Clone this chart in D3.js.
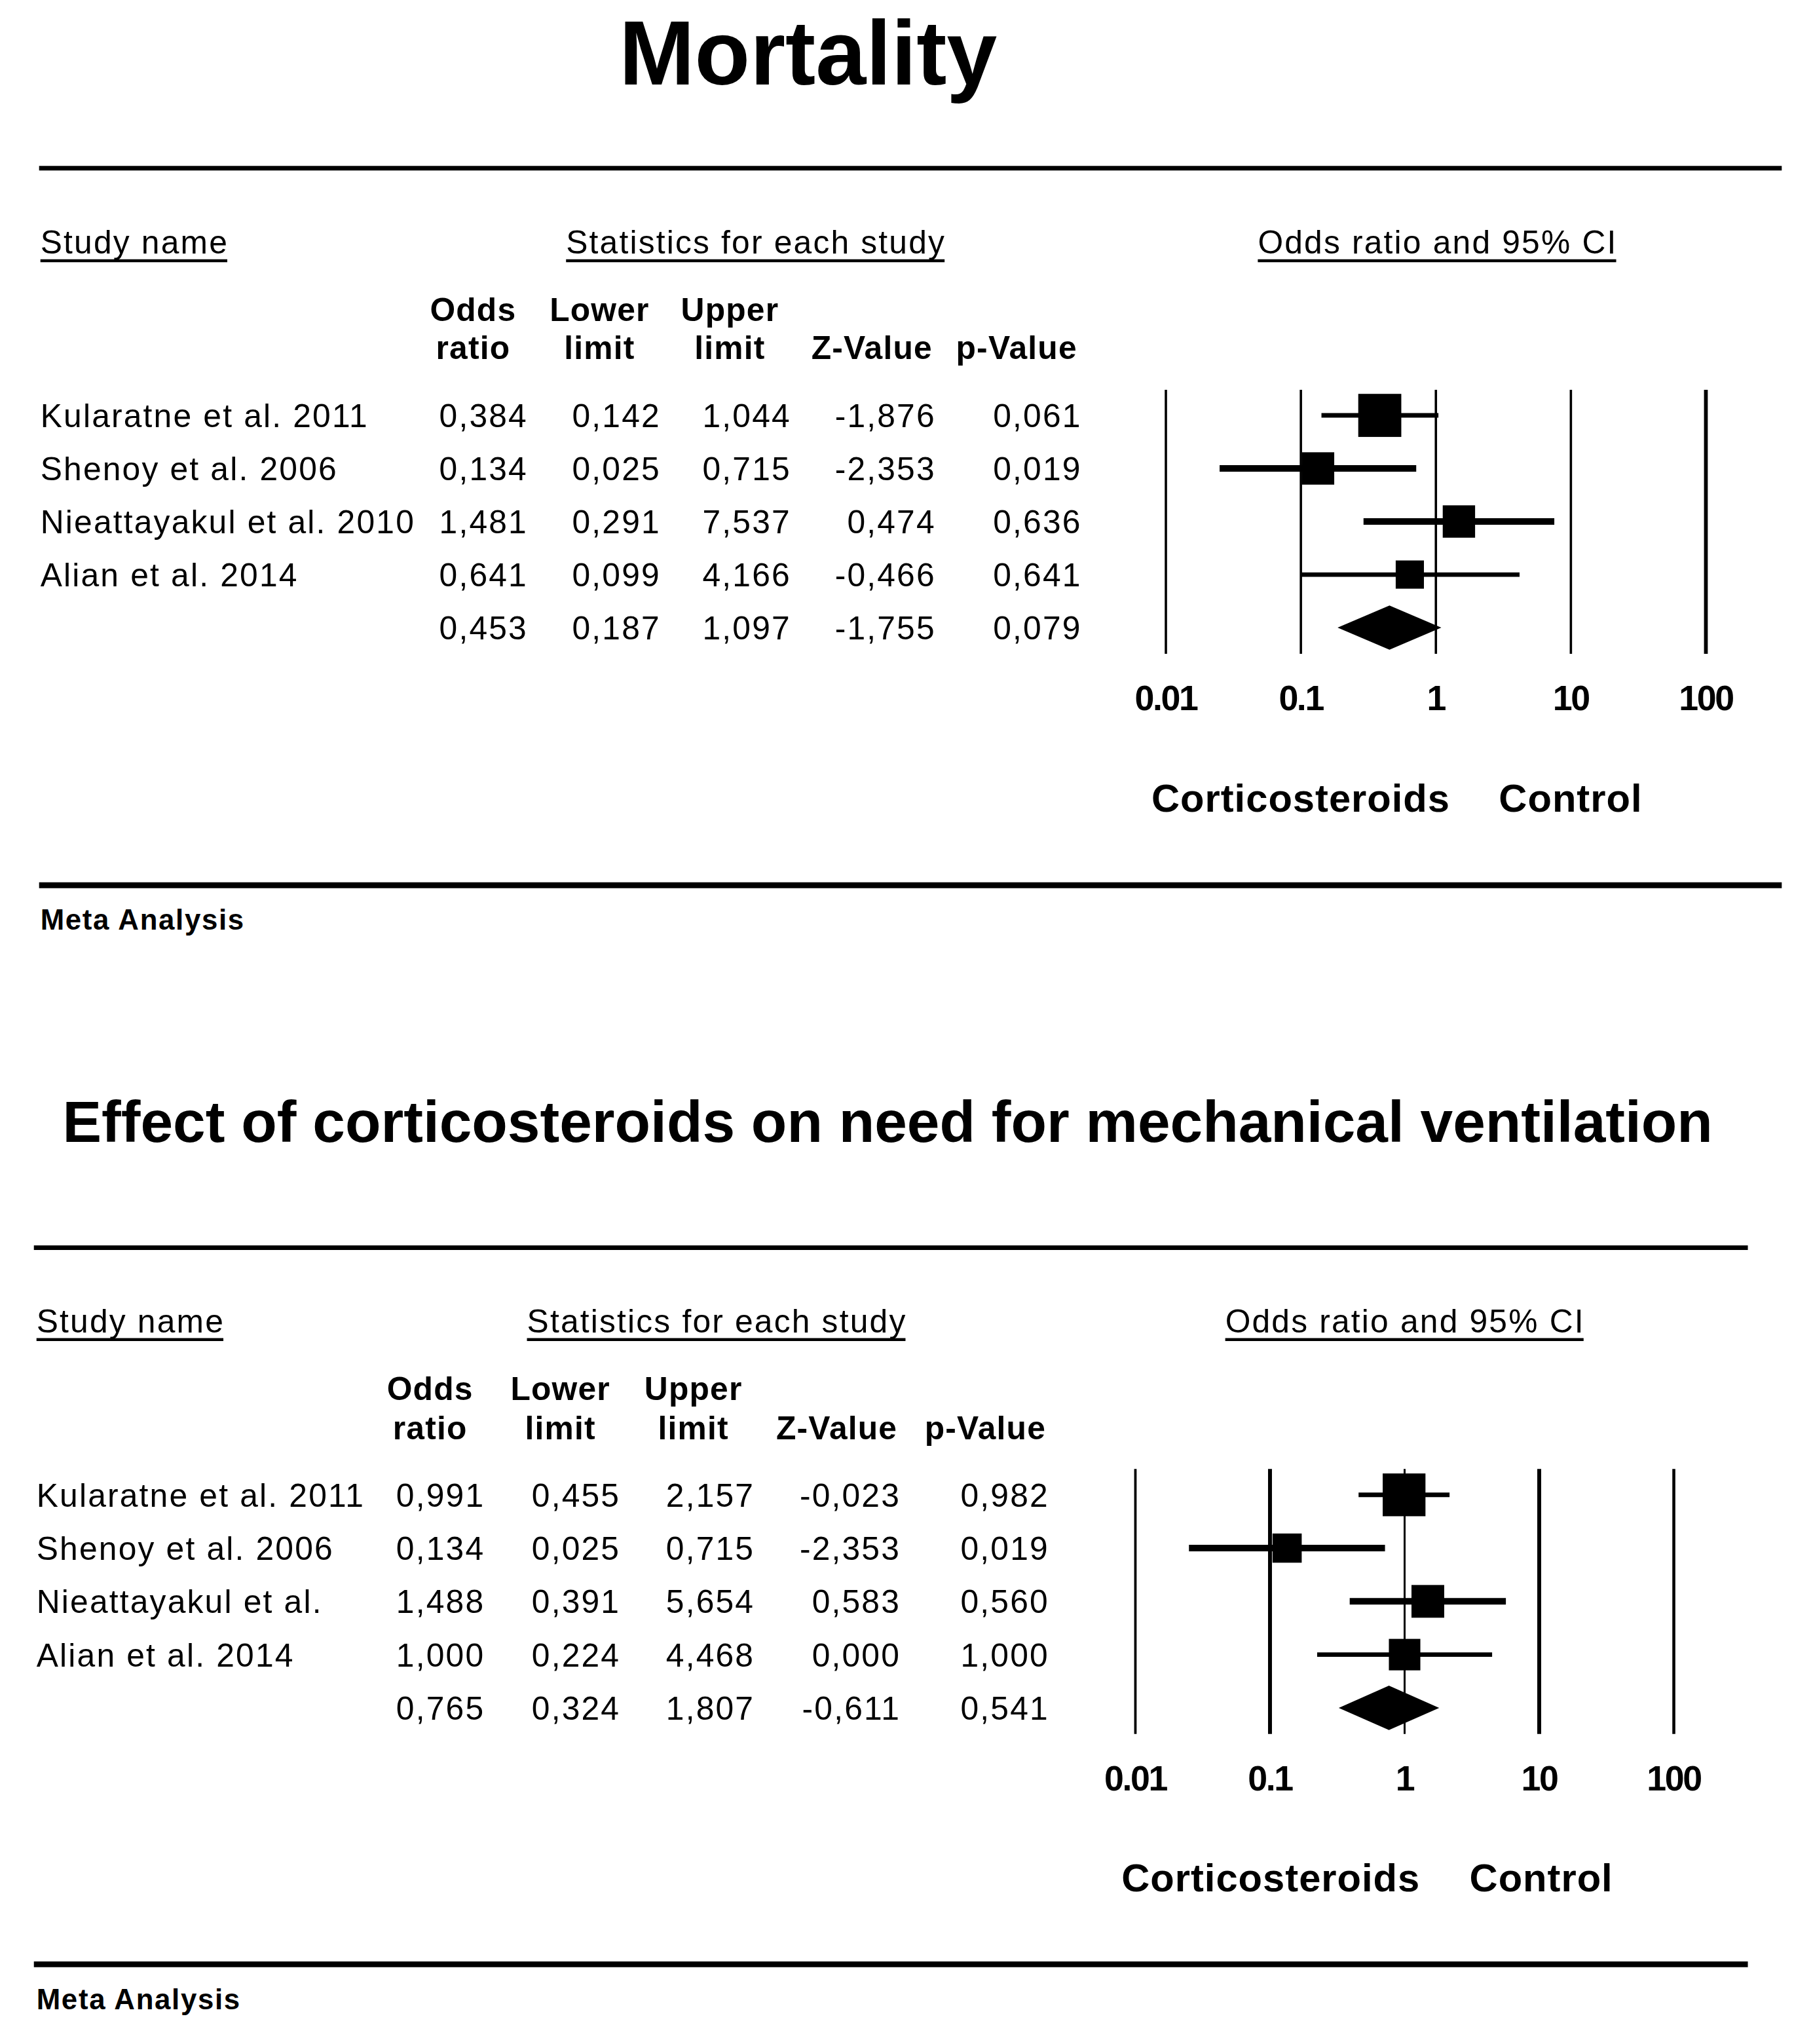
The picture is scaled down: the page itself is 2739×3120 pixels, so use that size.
<!DOCTYPE html>
<html>
<head>
<meta charset="utf-8">
<script src="https://cdn.jsdelivr.net/npm/d3@7"></script>
<style>
  html, body { margin: 0; padding: 0; background: #fff; }
  svg { display: block; }
  text { font-family: "Liberation Sans", Arial, sans-serif; fill: #000; }
</style>
</head>
<body>
<svg id="chart"></svg>
<script>
// ---- data: mortality ----
const mortStudies = ["Kularatne et al. 2011", "Shenoy et al. 2006", "Nieattayakul et al. 2010", "Alian et al. 2014"];
const mortOR = [0.384, 0.134, 1.481, 0.641];
const mortLower = [0.142, 0.025, 0.291, 0.099];
const mortUpper = [1.044, 0.715, 7.537, 4.166];
const mortZ = [-1.876, -2.353, 0.474, -0.466];
const mortP = [0.061, 0.019, 0.636, 0.641];
const mortWeight = [39.1, 22.1, 22.1, 16.8];
const mortSummary = [0.453, 0.187, 1.097, -1.755, 0.079];

// ---- data: mechanical ventilation ----
const ventStudies = ["Kularatne et al. 2011", "Shenoy et al. 2006", "Nieattayakul et al.", "Alian et al. 2014"];
const ventOR = [0.991, 0.134, 1.488, 1.000];
const ventLower = [0.455, 0.025, 0.391, 0.224];
const ventUpper = [2.157, 0.715, 5.654, 4.468];
const ventZ = [-0.023, -2.353, 0.583, 0.000];
const ventP = [0.982, 0.019, 0.560, 1.000];
const ventWeight = [38.6, 18.0, 22.6, 20.9];
const ventSummary = [0.765, 0.324, 1.807, -0.611, 0.541];

const tickValues = [0.01, 0.1, 1, 10, 100];
const tickLabels = ["0.01", "0.1", "1", "10", "100"];
const statHeaders = [["Odds", "ratio"], ["Lower", "limit"], ["Upper", "limit"], ["", "Z-Value"], ["", "p-Value"]];
const groupLabels = ["Corticosteroids", "Control"];
const sectionLabels = ["Study name", "Statistics for each study", "Odds ratio and 95% CI"];
const footerLabel = "Meta Analysis";

// line weights of the CI bars
const ciWidths = [3.5, 5, 5, 3.4];

const W = 1376.4;
const H = 1567.8;

const svg = d3.select("#chart")
  .attr("width", 2739)
  .attr("height", 3120)
  .attr("viewBox", `0 0 ${W} ${H}`);

const fmt = d3.formatLocale({
  decimal: ",",
  thousands: ".",
  grouping: [3],
  currency: ["", ""],
  minus: "-",
}).format(".3f");

const boxSize = d3.scaleSqrt().domain([0, 40]).range([0, 33.4]);

const panels = [
  {
    title: "Mortality", titleX: 620, titleY: 65, titleSize: 70, titleLen: 290,
    ruleX: [30, 1367], ruleTop: 129, ruleBot: 679,
    sectionY: 194.5, sectionX: [31, 580, 1103],
    hdrY: [246.2, 275.4], hdrX: [363, 460, 560, 669, 780],
    colRight: [404, 506, 606, 717, 829],
    rowY: [318.6, 481.4],
    forestX: [894.5, 1308.8], forestY: [299, 501.5],
    gridWidths: [1.8, 1.8, 1.8, 1.8, 2.9],
    tickY: 544.8, groupX: [998, 1205], groupY: 622.4, metaY: 713.3, metaX: 31,
    studies: mortStudies, or: mortOR, lo: mortLower, hi: mortUpper, z: mortZ, p: mortP,
    weight: mortWeight, summary: mortSummary,
  },
  {
    title: "Effect of corticosteroids on need for mechanical ventilation",
    titleX: 681, titleY: 876, titleSize: 45, titleLen: 1266,
    ruleX: [26, 1341], ruleTop: 957, ruleBot: 1506.7,
    sectionY: 1022, sectionX: [28, 550, 1078],
    hdrY: [1074, 1104], hdrX: [330, 430, 532, 642, 756],
    colRight: [371, 475, 578, 690, 804],
    rowY: [1146.6, 1310],
    forestX: [871.1, 1284.2], forestY: [1126.7, 1330],
    gridWidths: [1.9, 3, 1.5, 3, 2.3],
    tickY: 1373.3, groupX: [975, 1182.5], groupY: 1451, metaY: 1541, metaX: 28,
    studies: ventStudies, or: ventOR, lo: ventLower, hi: ventUpper, z: ventZ, p: ventP,
    weight: ventWeight, summary: ventSummary,
  },
];

panels.forEach(drawPanel);

function drawPanel(cfg) {
  const g = svg.append("g");

  // title
  g.append("text")
    .attr("x", cfg.titleX)
    .attr("y", cfg.titleY)
    .attr("text-anchor", "middle")
    .attr("font-size", cfg.titleSize)
    .attr("font-weight", "bold")
    .attr("textLength", cfg.titleLen)
    .attr("lengthAdjust", "spacingAndGlyphs")
    .text(cfg.title);

  // heavy rules
  [cfg.ruleTop, cfg.ruleBot].forEach((y, i) => {
    g.append("line")
      .attr("x1", cfg.ruleX[0]).attr("x2", cfg.ruleX[1])
      .attr("y1", y).attr("y2", y)
      .attr("stroke", "#000")
      .attr("stroke-width", i === 0 ? 3.6 : 4.4);
  });

  // underlined section headers
  sectionLabels.forEach((label, i) => {
    const t = g.append("text")
      .attr("x", cfg.sectionX[i])
      .attr("y", cfg.sectionY)
      .attr("text-anchor", i === 0 ? "start" : "middle")
      .attr("font-size", 25)
      .attr("letter-spacing", 1.1)
      .text(label);
    const bb = t.node().getBBox();
    g.append("line")
      .attr("x1", bb.x).attr("x2", bb.x + bb.width - 1)
      .attr("y1", cfg.sectionY + 5.5).attr("y2", cfg.sectionY + 5.5)
      .attr("stroke", "#000")
      .attr("stroke-width", 2.2);
  });

  // column headers
  statHeaders.forEach((lines, i) => {
    lines.forEach((line, j) => {
      g.append("text")
        .attr("x", cfg.hdrX[i])
        .attr("y", cfg.hdrY[j])
        .attr("text-anchor", "middle")
        .attr("font-size", 25)
        .attr("font-weight", "bold")
        .attr("letter-spacing", 0.6)
        .text(line);
    });
  });

  const nRows = cfg.studies.length;
  const y = d3.scaleLinear().domain([0, nRows]).range(cfg.rowY);
  const x = d3.scaleLog().domain([0.01, 100]).range(cfg.forestX);

  const rows = cfg.studies.map((name, i) => ({
    name, i,
    vals: [cfg.or[i], cfg.lo[i], cfg.hi[i], cfg.z[i], cfg.p[i]],
  }));
  rows.push({ name: "", i: nRows, vals: cfg.summary });

  const rowG = g.selectAll("g.row")
    .data(rows)
    .join("g")
    .attr("class", "row");

  rowG.append("text")
    .attr("x", cfg.sectionX[0])
    .attr("y", (d) => y(d.i) + 9)
    .attr("font-size", 25)
    .attr("letter-spacing", 1.1)
    .text((d) => d.name);

  rowG.selectAll("text.num")
    .data((d) => d.vals.map((v, k) => ({ v, k, i: d.i })))
    .join("text")
    .attr("class", "num")
    .attr("x", (d) => cfg.colRight[d.k] + 1)
    .attr("y", (d) => y(d.i) + 9)
    .attr("text-anchor", "end")
    .attr("font-size", 25)
    .attr("letter-spacing", 1.1)
    .text((d) => fmt(d.v));

  // forest grid
  g.selectAll("line.grid")
    .data(tickValues)
    .join("line")
    .attr("class", "grid")
    .attr("x1", (d) => x(d)).attr("x2", (d) => x(d))
    .attr("y1", cfg.forestY[0]).attr("y2", cfg.forestY[1])
    .attr("stroke", "#000")
    .attr("stroke-width", (d, i) => cfg.gridWidths[i]);

  g.selectAll("text.tick")
    .data(tickValues)
    .join("text")
    .attr("class", "tick")
    .attr("x", (d) => x(d))
    .attr("y", cfg.tickY)
    .attr("text-anchor", "middle")
    .attr("font-size", 27)
    .attr("font-weight", "bold")
    .attr("letter-spacing", -1.2)
    .text((d, i) => tickLabels[i]);

  // CI bars and boxes
  const studyRows = rows.slice(0, nRows);

  g.selectAll("line.ci")
    .data(studyRows)
    .join("line")
    .attr("class", "ci")
    .attr("x1", (d) => x(d.vals[1]))
    .attr("x2", (d) => x(d.vals[2]))
    .attr("y1", (d) => y(d.i))
    .attr("y2", (d) => y(d.i))
    .attr("stroke", "#000")
    .attr("stroke-width", (d) => ciWidths[d.i]);

  g.selectAll("rect.box")
    .data(studyRows)
    .join("rect")
    .attr("class", "box")
    .attr("x", (d) => x(d.vals[0]) - boxSize(cfg.weight[d.i]) / 2)
    .attr("y", (d) => y(d.i) - boxSize(cfg.weight[d.i]) / 2)
    .attr("width", (d) => boxSize(cfg.weight[d.i]))
    .attr("height", (d) => boxSize(cfg.weight[d.i]))
    .attr("fill", "#000");

  // summary diamond
  const s = cfg.summary;
  const cy = y(nRows);
  const hh = 17;
  g.append("path")
    .attr("d", `M${x(s[1])},${cy} L${x(s[0])},${cy - hh} L${x(s[2])},${cy} L${x(s[0])},${cy + hh} Z`)
    .attr("fill", "#000");

  // favours labels
  groupLabels.forEach((label, i) => {
    g.append("text")
      .attr("x", cfg.groupX[i])
      .attr("y", cfg.groupY)
      .attr("text-anchor", "middle")
      .attr("font-size", 30)
      .attr("font-weight", "bold")
      .attr("letter-spacing", 0.5)
      .text(label);
  });

  g.append("text")
    .attr("x", cfg.metaX)
    .attr("y", cfg.metaY)
    .attr("font-size", 22)
    .attr("font-weight", "bold")
    .attr("textLength", 156)
    .attr("lengthAdjust", "spacing")
    .text(footerLabel);
}
</script>
</body>
</html>
